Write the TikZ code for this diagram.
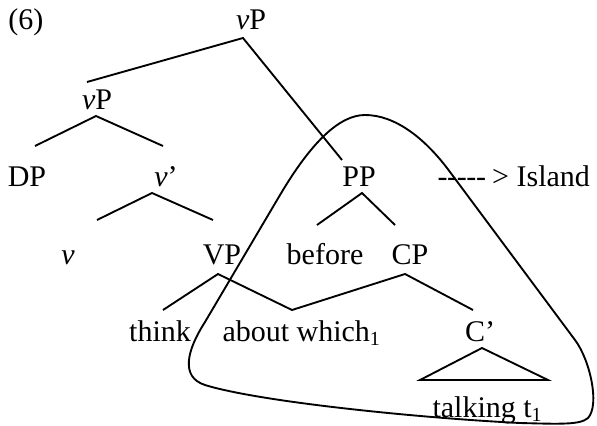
\documentclass[tikz,border=0pt]{standalone}
\usepackage{fontspec}
\setmainfont{Liberation Serif}
\usetikzlibrary{calc}
\usetikzlibrary{positioning}

\tikzset{cat/.style={anchor=base, inner sep=0pt, font=\fontsize{12}{14}\selectfont},
         branch/.style={line width=0.75pt}}

\begin{document}
\begin{tikzpicture}[x=0.4pt, y=-0.4pt]
\useasboundingbox (0,0) rectangle (597,425);
% labels of the tree
\node[cat, anchor=base west] (ex) at (8,30) {(6)};
\node[cat] (vPtop) at (251,30) {\textit{v}P};
\node[cat] (vPlow) at (97,110) {\textit{v}P};
\node[cat] (DP) at (27,187) {DP};
\node[cat] (vbar) at (166,187) {\textit{v}’};
\node[cat] (PP) at (359,187) {PP};
\node[cat, anchor=base west] (island) at (437,187) {-\kern-0.15pt-\kern-0.15pt-\kern-0.15pt-\kern-0.15pt-\kern-0.5pt{} > Island};
\node[cat] (v) at (68,264) {\textit{v}};
\node[cat] (VP) at (222,264) {VP};
\node[cat] (before) at (325,264) {before};
\node[cat] (CP) at (410,264) {CP};
\node[cat] (think) at (160,341) {think};
\node[cat, anchor=base west] (about) at (222,341) {about which\textsubscript{1}};
\node[cat] (Cbar) at (480,341) {C’};
\node[cat, anchor=base west] (talking) at (432,417) {talking t\textsubscript{1}};
% branch points
\coordinate (vPtop-a) at (243,38);
\coordinate (vPtop-l) at (87,82);
\coordinate (vPtop-r) at (342,160);
\coordinate (vPlow-a) at (96,116);
\coordinate (vPlow-l) at (35,146);
\coordinate (vPlow-r) at (163,146);
\coordinate (vbar-a) at (152,193);
\coordinate (vbar-l) at (97,220);
\coordinate (vbar-r) at (213,220);
\coordinate (PP-a) at (362,193);
\coordinate (PP-l) at (317,225);
\coordinate (PP-r) at (395,225);
\coordinate (VP-a) at (218,274);
\coordinate (VP-l) at (163,310);
\coordinate (about-t) at (292,310);
\coordinate (CP-a) at (405,274);
\coordinate (CP-r) at (473,310);
\coordinate (Cbar-a) at (482,348);
\coordinate (Cbar-l) at (420,380);
\coordinate (Cbar-r) at (548,380);
% branches
\draw[branch] (vPtop-l) -- (vPtop-a) -- (vPtop-r);
\draw[branch] (vPlow-l) -- (vPlow-a) -- (vPlow-r);
\draw[branch] (vbar-l) -- (vbar-a) -- (vbar-r);
\draw[branch] (PP-l) -- (PP-a) -- (PP-r);
\draw[branch] (VP-l) -- (VP-a) -- (about-t) -- (CP-a) -- (CP-r);
\draw[branch] (Cbar-a) -- (Cbar-l) -- (Cbar-r) -- cycle;
% the island
\draw[branch] (205,322) -- (280,195)
  .. controls (312,141) and (340,115) .. (365,115)
  .. controls (395,115) and (425,138) .. (450,172)
  -- (575,340)
  .. controls (590,360) and (600,405) .. (588,418)
  .. controls (580,425) and (560,424) .. (520,423)
  .. controls (420,418) and (260,402) .. (205,385)
  .. controls (180,377) and (187,350) .. cycle;
\end{tikzpicture}
\end{document}
